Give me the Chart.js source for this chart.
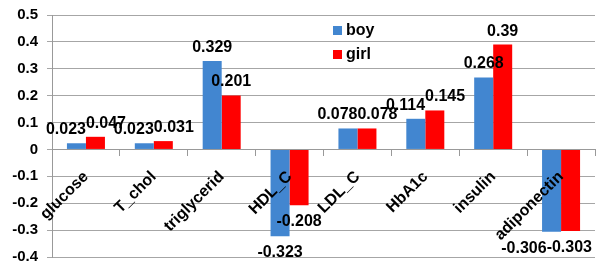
<!DOCTYPE html>
<html>
<head>
<meta charset="utf-8">
<script src="https://cdn.jsdelivr.net/npm/chart.js@4.4.0/dist/chart.umd.min.js"></script>
<style>
  html, body { margin: 0; padding: 0; background: #fff; }
  #wrap { width: 598px; height: 268px; }
</style>
</head>
<body>
<div id="wrap"><canvas id="chart"></canvas></div>
<script>
// data
var categories = ['glucose', 'T_chol', 'triglycerid', 'HDL_C', 'LDL_C', 'HbA1c', 'insulin', 'adiponectin'];
var boyValues  = [0.023, 0.023, 0.329, -0.323, 0.078, 0.114, 0.268, -0.306];
var girlValues = [0.047, 0.031, 0.201, -0.208, 0.078, 0.145, 0.39, -0.303];
var yTicks = [-0.4, -0.3, -0.2, -0.1, 0, 0.1, 0.2, 0.3, 0.4, 0.5];

var BLUE = '#4286d0';
var RED = '#ff0000';
var FONT_FAMILY = '"Liberation Sans", Arial, sans-serif';
var FONT = 'bold 16px ' + FONT_FAMILY;

// value labels above / below each bar, pushed apart when the two in a group collide
var valueLabels = {
  id: 'valueLabels',
  afterDraw: function(chart) {
    var ctx = chart.ctx;
    ctx.save();
    ctx.font = FONT;
    ctx.fillStyle = '#000';
    ctx.textAlign = 'center';
    ctx.textBaseline = 'alphabetic';
    for (var i = 0; i < categories.length; i++) {
      var items = [0, 1].map(function(d) {
        var bar = chart.getDatasetMeta(d).data[i];
        var v = chart.data.datasets[d].data[i];
        var t = String(v);
        var w = ctx.measureText(t).width;
        var bottom = v >= 0 ? bar.y - 9 : bar.y + 21;
        return { x: bar.x, w: w, bottom: bottom, top: bottom - 12, t: t };
      });
      var a = items[0], b = items[1];
      var hov = (a.w / 2 + b.w / 2) - (b.x - a.x);
      var vov = Math.min(a.bottom, b.bottom) - Math.max(a.top, b.top);
      if (hov > 0 && vov > 0) {
        a.x -= hov / 2;
        b.x += hov / 2;
      }
      var over = b.x + b.w / 2 - (chart.width - 6);
      if (over > 0) { a.x -= over; b.x -= over; }
      items.forEach(function(it) { ctx.fillText(it.t, it.x, it.bottom); });
    }
    ctx.restore();
  }
};

// legend drawn inside the plot, near the top middle
var innerLegend = {
  id: 'innerLegend',
  afterDraw: function(chart) {
    var ctx = chart.ctx;
    var area = chart.chartArea;
    var x = area.left + 281, y = area.top + 16;
    ctx.save();
    ctx.font = FONT;
    ctx.textAlign = 'left';
    ctx.textBaseline = 'middle';
    chart.data.datasets.forEach(function(ds, k) {
      var cy = y + k * 24;
      ctx.fillStyle = ds.backgroundColor;
      ctx.fillRect(x, cy - 5, 9, 9);
      ctx.fillStyle = '#000';
      ctx.fillText(ds.label, x + 13, cy);
    });
    ctx.restore();
  }
};

new Chart(document.getElementById('chart'), {
  type: 'bar',
  data: {
    labels: categories,
    datasets: [
      { label: 'boy', data: boyValues, backgroundColor: BLUE },
      { label: 'girl', data: girlValues, backgroundColor: RED }
    ]
  },
  options: {
    responsive: true,
    maintainAspectRatio: false,
    animation: false,
    categoryPercentage: 0.56,
    barPercentage: 1.0,
    layout: { padding: { top: 15, right: 3, bottom: 11, left: 0 } },
    plugins: {
      legend: { display: false },
      tooltip: { enabled: false }
    },
    scales: {
      x: {
        position: { y: 0 },
        afterFit: function(scale) {
          scale.paddingLeft = scale.paddingRight = 0;
          scale.paddingTop = scale.paddingBottom = 0;
        },
        grid: { display: true, offset: true, drawOnChartArea: false, drawTicks: true, tickLength: 6, color: '#999' },
        border: { display: true, color: '#999' },
        ticks: {
          z: 1,
          autoSkip: false,
          minRotation: 45,
          maxRotation: 45,
          padding: 12,
          color: '#000',
          font: { family: FONT_FAMILY, size: 16, weight: 'bold' }
        }
      },
      y: {
        min: -0.4,
        max: 0.5,
        afterBuildTicks: function(scale) {
          scale.ticks = yTicks.map(function(v) { return { value: v }; });
        },
        afterFit: function(scale) {
          scale.width = 52;
          scale.paddingTop = scale.paddingBottom = 0;
        },
        grid: { color: '#a6a6a6', tickLength: 5 },
        border: { color: '#999' },
        ticks: {
          padding: 9,
          color: '#000',
          font: { family: FONT_FAMILY, size: 15, weight: 'bold' },
          callback: function(v) { return String(Math.round(v * 10) / 10); }
        }
      }
    }
  },
  plugins: [valueLabels, innerLegend]
});
</script>
</body>
</html>
